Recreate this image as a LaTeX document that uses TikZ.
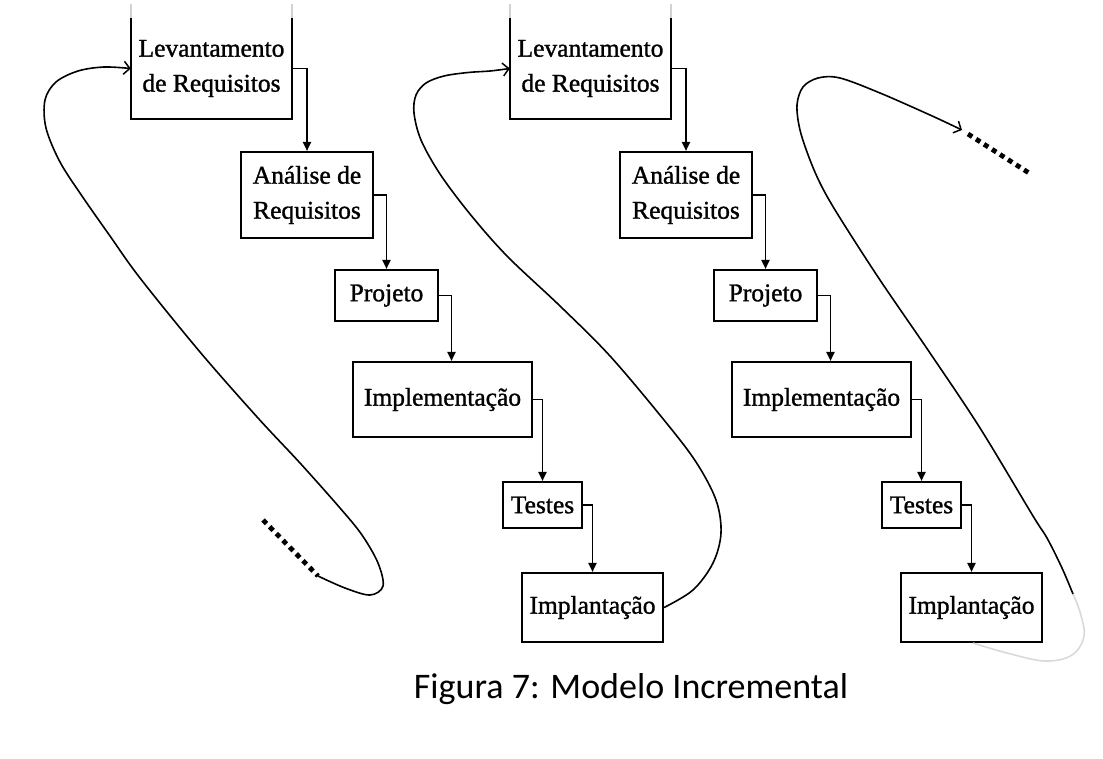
\documentclass[tikz,border=0pt]{standalone}
\usepackage{fontspec}
\setmainfont{Liberation Serif}
\newfontfamily\boxfont[BoldFont={Liberation Serif}, BoldFeatures={FakeBold=1.2}]{Liberation Serif}
\newfontfamily\capfont{Carlito}
\usetikzlibrary{arrows.meta}
\begin{document}
\begin{tikzpicture}[x=1pt,y=-1pt,
  boxtext/.style={inner sep=0pt, align=center, font=\boxfont\bfseries\fontsize{25.5}{35}\selectfont},
  box/.style={boxtext, draw, line width=2.1pt},
  conn/.style={line width=1.9pt, -{Triangle[length=9pt,width=8pt]}},
  loopline/.style={line width=1.6pt},
  looparrow/.style={loopline, -{Straight Barb[length=6pt,width=13pt,line width=1.5pt]}},
  dotline/.style={line width=4.8pt, dash pattern=on 5pt off 4.5pt}
]
\useasboundingbox (0,0) rectangle (1103,758);

% ---------- column 1 ----------
\node[boxtext, minimum width=161pt, minimum height=101pt] (L1) at (211.5,68.5) {Levantamento\\de Requisitos};
\node[box, minimum width=132pt, minimum height=86pt] (A1) at (307,195) {Análise de\\Requisitos};
\node[box, minimum width=103pt, minimum height=51pt] (P1) at (386.5,295.5) {Projeto};
\node[box, minimum width=179pt, minimum height=75pt] (I1) at (442.5,399.5) {Implementação};
\node[box, minimum width=79pt, minimum height=46pt] (T1) at (542.5,505) {Testes};
\node[box, minimum width=141pt, minimum height=69pt] (M1) at (592.5,607.5) {Implantação};

% ---------- column 2 ----------
\node[boxtext, minimum width=161pt, minimum height=101pt] (L2) at (590.5,68.5) {Levantamento\\de Requisitos};
\node[box, minimum width=132pt, minimum height=86pt] (A2) at (686,195) {Análise de\\Requisitos};
\node[box, minimum width=103pt, minimum height=51pt] (P2) at (765.5,295.5) {Projeto};
\node[box, minimum width=179pt, minimum height=75pt] (I2) at (821.5,399.5) {Implementação};
\node[box, minimum width=79pt, minimum height=46pt] (T2) at (921.5,505) {Testes};
\node[box, minimum width=141pt, minimum height=69pt] (M2) at (971.5,607.5) {Implantação};

% open-topped boxes (top edge fades out)
\foreach \n in {L1,L2}{
  \draw[line width=2.1pt, line join=miter] ([yshift=14pt]\n.north west) -- (\n.south west) -- (\n.south east) -- ([yshift=14pt]\n.north east);
  \draw[line width=2.1pt, gray!35] (\n.north west) -- ([yshift=14pt]\n.north west);
  \draw[line width=2.1pt, gray!35] (\n.north east) -- ([yshift=14pt]\n.north east);
}

% ---------- step connectors ----------
\foreach \c in {1,2}{
  \draw[conn] (L\c.east) -| (A\c.north);
  \draw[conn] (A\c.east) -| (P\c.north);
  \draw[conn] (P\c.east) -| ([xshift=9pt]I\c.north);
  \draw[conn] (I\c.east) -| (T\c.north);
  \draw[conn] (T\c.east) -| (M\c.north);
}

% ---------- loop 1 ----------
\coordinate (d1s) at (263,520);
\coordinate (d1e) at (318,576);
\draw[dotline] (d1s) -- (d1e);
\draw[looparrow] plot[smooth, tension=0.55] coordinates {(d1e) (345,588) (370,595) (383,586) (378,563) (362,535) (340,508) (300,463) (258,418) (200,352) (140,278) (110,236) (82,196) (60,162) (46,128) (45,100) (56,82) (78,71) (104,67) (L1.west)};

% ---------- loop 2 ----------
\draw[looparrow] plot[smooth, tension=0.55] coordinates {(M1.east) (693,590) (713,563) (721,533) (716,500) (696,462) (664,420) (610,356) (560,306) (507,256) (470,214) (440,174) (421,140) (414,113) (416,95) (426,83) (444,76) (468,72.5) (490,71) (L2.west)};

% ---------- loop 3 ----------
\coordinate (e3) at (962,130);
\coordinate (d3s) at (968,134);
\coordinate (d3e) at (1029,173);
\draw[loopline, gray!30] plot[smooth, tension=0.6] coordinates {([xshift=1.5pt]M2.south) (1007,653) (1045,661) (1072,655) (1084,636) (1080,612) (1073,594)};
\draw[looparrow] plot[smooth, tension=0.55] coordinates {(1073,594) (1062,568) (1047,538) (1033,516) (980,428) (930,353) (880,280) (840,218) (822,187) (810,160) (800,130) (797,105) (803,87) (818,78) (840,78) (880,93) (930,115) (e3)};
\draw[dotline] (d3s) -- (d3e);

% ---------- caption ----------
\node[anchor=base, inner sep=0pt, font=\capfont\fontsize{36}{42}\selectfont] (cap) at (631,698) {Figura 7: Modelo Incremental};
\end{tikzpicture}
\end{document}
